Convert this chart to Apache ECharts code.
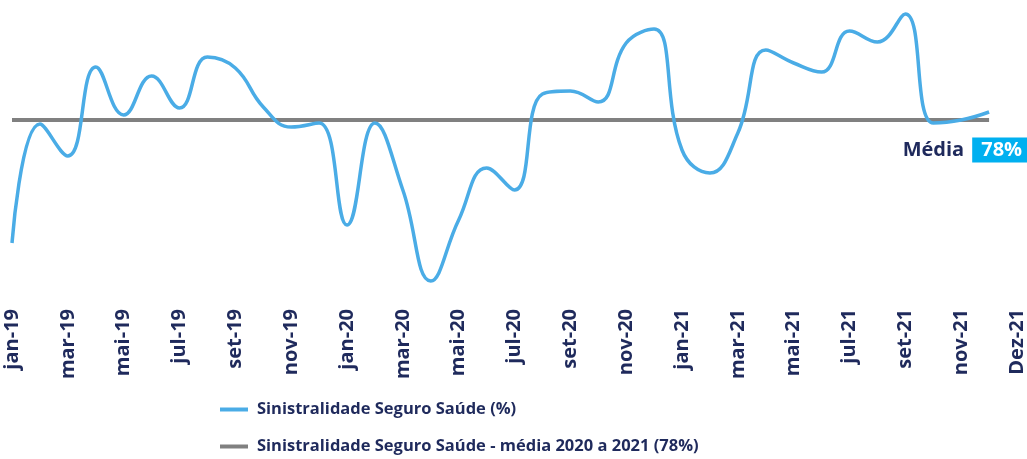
<!DOCTYPE html>
<html>
<head>
<meta charset="utf-8">
<script src="https://cdn.jsdelivr.net/npm/echarts@6/dist/echarts.min.js"></script>
<style>
  html, body { margin: 0; padding: 0; background: #fff; }
  #chart { width: 1027px; height: 459px; }
</style>
</head>
<body>
<div id="chart"></div>
<script>
// meses jan-19 .. dez-21, mais o rótulo final "Dez-21" como no original
const months = [
  'jan-19', 'fev-19', 'mar-19', 'abr-19', 'mai-19', 'jun-19', 'jul-19', 'ago-19', 'set-19', 'out-19', 'nov-19', 'dez-19',
  'jan-20', 'fev-20', 'mar-20', 'abr-20', 'mai-20', 'jun-20', 'jul-20', 'ago-20', 'set-20', 'out-20', 'nov-20', 'dez-20',
  'jan-21', 'fev-21', 'mar-21', 'abr-21', 'mai-21', 'jun-21', 'jul-21', 'ago-21', 'set-21', 'out-21', 'nov-21', 'dez-21',
  'Dez-21'
]

// sinistralidade (%)
const sinistralidade = [
  65.7, 77.6, 74.4, 83.3, 78.5, 82.4, 79.2, 84.3, 83.2, 79.3, 77.3, 77.7,
  67.5, 77.7, 71.0, 61.9, 68.0, 73.2, 71.0, 80.6, 80.9, 79.8, 85.7, 87.1,
  75.0, 72.7, 76.7, 85.0, 83.7, 82.8, 86.9, 85.8, 88.6, 77.7, 78.0, 78.8
]

const media = 78
const mediaLine = sinistralidade.map(() => media)

const navy = '#1f2a5c'
const font = 'Open Sans'

const myChart = echarts.init(document.getElementById('chart'))

const option = {
  animation: false,
  grid: {
    left: 12,
    right: 7,
    top: 0,
    bottom: 159
  },
  legend: {
    orient: 'vertical',
    left: 220,
    top: 400,
    padding: 0,
    itemGap: 18,
    itemWidth: 28,
    itemHeight: 4,
    icon: 'rect',
    textStyle: {
      color: navy,
      fontFamily: font,
      fontWeight: 'bold',
      fontSize: 16.5,
      lineHeight: 19,
      padding: [0, 0, 0, 4]
    },
    data: [
      'Sinistralidade Seguro Saúde (%)',
      'Sinistralidade Seguro Saúde - média 2020 a 2021 (78%)'
    ]
  },
  xAxis: {
    type: 'category',
    boundaryGap: false,
    data: months,
    axisLine: { show: false },
    axisTick: { show: false },
    axisLabel: {
      interval: 1,
      rotate: 90,
      margin: 9,
      color: navy,
      fontFamily: font,
      fontWeight: 'bold',
      fontSize: 20
    }
  },
  yAxis: {
    type: 'value',
    min: 60,
    max: 90,
    show: false,
    splitLine: { show: false }
  },
  series: [
    {
      name: 'Sinistralidade Seguro Saúde - média 2020 a 2021 (78%)',
      type: 'line',
      data: mediaLine,
      showSymbol: false,
      symbol: 'none',
      z: 1,
      lineStyle: { color: '#808080', width: 4 },
      itemStyle: { color: '#808080' },
      endLabel: {
        show: true,
        align: 'right',
        offset: [34, 30],
        formatter: '{a|Média}{b|78%}',
        rich: {
          a: {
            color: navy,
            fontFamily: font,
            fontWeight: 'bold',
            fontSize: 20,
            padding: [0, 8, 0, 0]
          },
          b: {
            color: '#fff',
            backgroundColor: '#00b0f0',
            fontFamily: font,
            fontWeight: 'bold',
            fontSize: 20,
            padding: [3, 9, 2, 9]
          }
        }
      }
    },
    {
      name: 'Sinistralidade Seguro Saúde (%)',
      type: 'line',
      data: sinistralidade,
      smooth: 0.45,
      showSymbol: false,
      symbol: 'none',
      z: 2,
      lineStyle: { color: '#4aace6', width: 3.5 },
      itemStyle: { color: '#4aace6' }
    }
  ]
}

myChart.setOption(option)
</script>
</body>
</html>
